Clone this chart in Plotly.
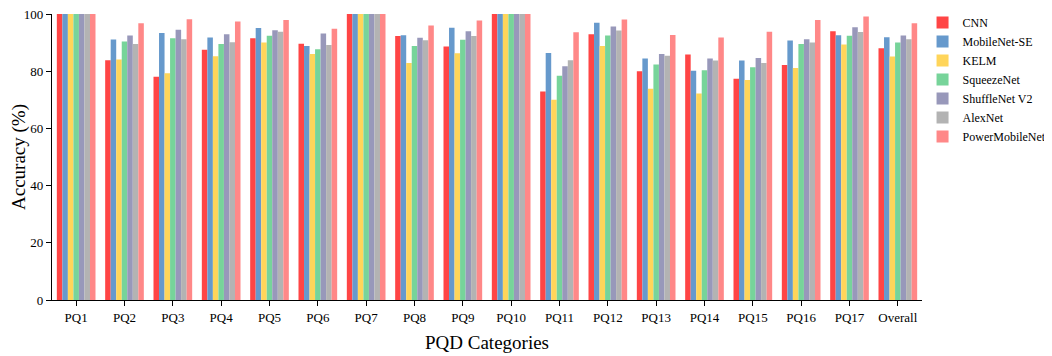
import plotly.graph_objects as go

categories = ["PQ1", "PQ2", "PQ3", "PQ4", "PQ5", "PQ6", "PQ7", "PQ8", "PQ9",
              "PQ10", "PQ11", "PQ12", "PQ13", "PQ14", "PQ15", "PQ16", "PQ17", "Overall"]

cnn = [100, 83.8, 78.1, 87.5, 91.5, 89.6, 100, 92.3, 88.6, 100, 72.9, 92.9, 80.0, 85.8, 77.4, 82.2, 94.0, 88.0]
mobilenet_se = [100, 91.1, 93.4, 91.8, 95.1, 88.8, 100, 92.6, 95.2, 100, 86.4, 96.9, 84.4, 80.2, 83.7, 90.7, 92.6, 91.9]
kelm = [100, 84.1, 79.3, 85.2, 90.0, 86.0, 100, 82.9, 86.3, 100, 70.0, 88.8, 73.9, 72.2, 76.9, 81.1, 89.3, 85.1]
squeezenet = [100, 90.4, 91.5, 89.5, 92.4, 87.7, 100, 88.8, 91.0, 100, 78.4, 92.5, 82.3, 80.3, 81.4, 89.5, 92.4, 90.0]
shufflenet_v2 = [100, 92.5, 94.5, 92.9, 94.3, 93.2, 100, 91.7, 94.0, 100, 81.7, 95.6, 86.0, 84.4, 84.6, 91.2, 95.4, 92.5]
alexnet = [100, 89.5, 91.2, 90.1, 93.8, 89.2, 100, 90.8, 92.3, 100, 83.8, 94.2, 85.4, 83.7, 82.9, 90.0, 93.7, 91.2]
powermobilenet = [100, 96.8, 98.2, 97.4, 97.9, 94.8, 100, 96.0, 97.7, 100, 93.6, 98.1, 92.7, 91.8, 93.8, 97.9, 99.1, 96.8]

series = [
    ("CNN", cnn, "#FF4545"),
    ("MobileNet-SE", mobilenet_se, "#6699CC"),
    ("KELM", kelm, "#FFD55A"),
    ("SqueezeNet", squeezenet, "#77D49A"),
    ("ShuffleNet V2", shufflenet_v2, "#9898BA"),
    ("AlexNet", alexnet, "#B3B3B3"),
    ("PowerMobileNet", powermobilenet, "#FF8888"),
]

fig = go.Figure()
for name, vals, color in series:
    fig.add_trace(go.Bar(x=categories, y=vals, name=name,
                         marker=dict(color=color, line=dict(width=0))))

font_family = "Liberation Serif, Times New Roman, serif"
# page has an 8px body margin, so the figure is sized 1044x348
fig.update_layout(
    width=1044, height=348,
    margin=dict(l=44, r=130, t=6, b=56, autoexpand=False),
    paper_bgcolor="white", plot_bgcolor="white",
    barmode="group", bargap=0.2, bargroupgap=0,
    font=dict(family=font_family, size=13, color="black"),
    legend=dict(xref="container", yref="container", x=0.876, y=1.0,
                xanchor="left", yanchor="top",
                font=dict(family=font_family, size=12, color="black"),
                tracegroupgap=0, itemwidth=30, bgcolor="rgba(0,0,0,0)"),
    xaxis=dict(
        title=dict(text="PQD Categories", font=dict(size=19), standoff=11),
        showline=True, linecolor="black", linewidth=1.2,
        ticks="outside", ticklen=5, tickcolor="black",
        showgrid=False, tickfont=dict(size=13), automargin=False,
    ),
    yaxis=dict(
        title=dict(text="Accuracy (%)", font=dict(size=19), standoff=6),
        range=[0, 100], dtick=20,
        showline=True, linecolor="black", linewidth=1.2,
        ticks="outside", ticklen=5, tickcolor="black",
        showgrid=False, zeroline=False, tickfont=dict(size=13),
        automargin=False, ticklabeloverflow="allow",
    ),
)

fig.write_html("out.html")
